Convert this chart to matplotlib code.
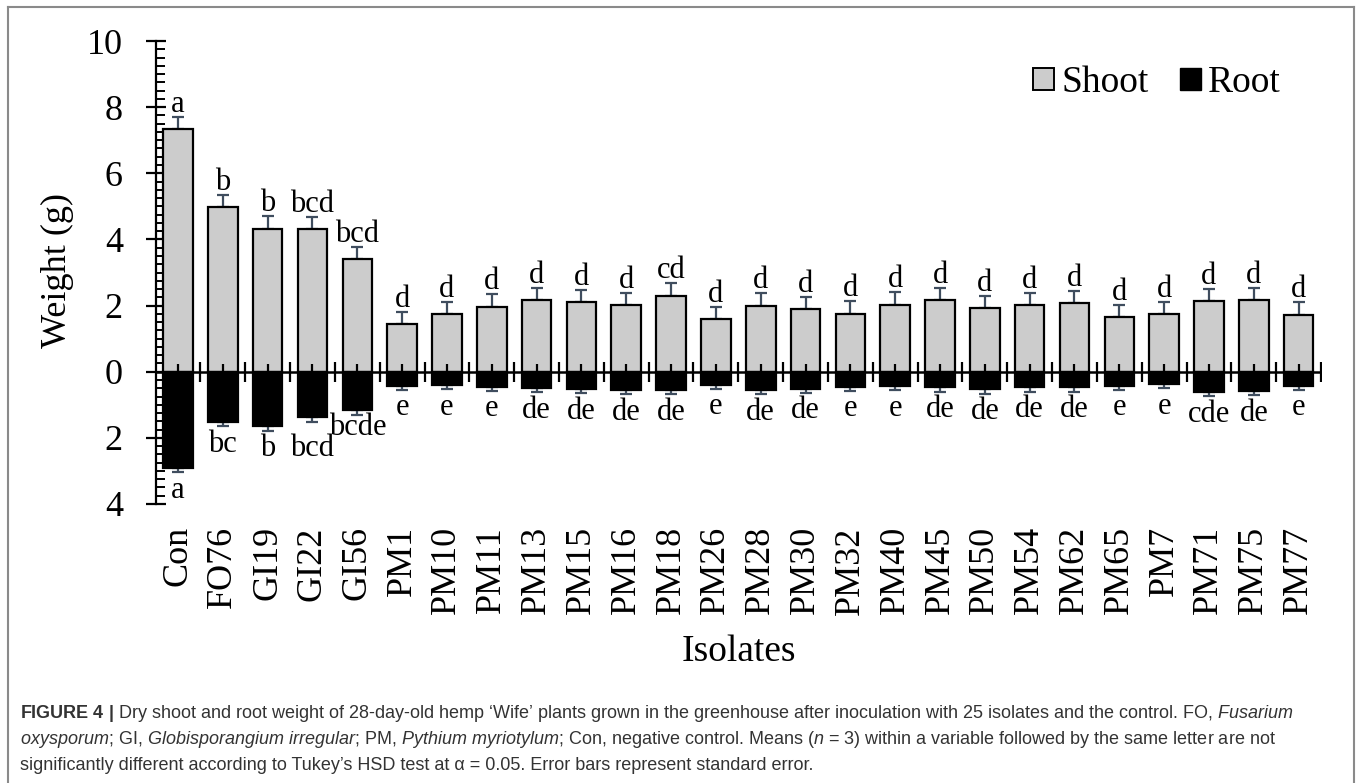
import numpy as np
import matplotlib
matplotlib.use("Agg")
import matplotlib.pyplot as plt
from matplotlib.lines import Line2D
from matplotlib.patches import Patch
from matplotlib.ticker import FuncFormatter, MultipleLocator

plt.rcParams['font.family'] = ['Liberation Serif', 'DejaVu Serif']
plt.rcParams['mathtext.fontset'] = 'custom'
plt.rcParams['mathtext.rm'] = 'Liberation Sans'
plt.rcParams['mathtext.it'] = 'Liberation Sans:italic'
plt.rcParams['mathtext.bf'] = 'Liberation Sans:bold'

# data
isolates = ["Con", "FO76", "GI19", "GI22", "GI56", "PM1", "PM10", "PM11", "PM13",
            "PM15", "PM16", "PM18", "PM26", "PM28", "PM30", "PM32", "PM40", "PM45",
            "PM50", "PM54", "PM62", "PM65", "PM7", "PM71", "PM75", "PM77"]
shoot = [7.35, 4.97, 4.33, 4.31, 3.42, 1.45, 1.74, 1.97, 2.17, 2.10, 2.03, 2.30, 1.59,
         2.00, 1.90, 1.76, 2.03, 2.17, 1.93, 2.03, 2.07, 1.64, 1.75, 2.14, 2.17, 1.73]
shoot_se = [0.36, 0.38, 0.38, 0.36, 0.36, 0.36, 0.38, 0.37, 0.36, 0.36, 0.36, 0.39, 0.38,
            0.37, 0.37, 0.37, 0.37, 0.37, 0.37, 0.36, 0.37, 0.37, 0.36, 0.37, 0.37, 0.37]
root = [2.90, 1.51, 1.64, 1.38, 1.16, 0.42, 0.40, 0.45, 0.49, 0.52, 0.55, 0.55, 0.39,
        0.55, 0.51, 0.45, 0.43, 0.47, 0.53, 0.47, 0.47, 0.42, 0.37, 0.60, 0.57, 0.42]
root_se = [0.14, 0.14, 0.14, 0.14, 0.14, 0.13, 0.13, 0.13, 0.13, 0.13, 0.13, 0.13, 0.13,
           0.13, 0.13, 0.13, 0.13, 0.13, 0.13, 0.13, 0.13, 0.13, 0.13, 0.14, 0.14, 0.13]
shoot_letters = ["a", "b", "b", "bcd", "bcd", "d", "d", "d", "d", "d", "d", "cd", "d",
                 "d", "d", "d", "d", "d", "d", "d", "d", "d", "d", "d", "d", "d"]
root_letters = ["a", "bc", "b", "bcd", "bcde", "e", "e", "e", "de", "de", "de", "de", "e",
                "de", "de", "e", "e", "de", "de", "de", "de", "e", "e", "cde", "de", "e"]

caption = [
    r"$\mathbf{FIGURE\ 4\ |}$ Dry shoot and root weight of 28-day-old hemp ‘Wife’ plants grown "
    r"in the greenhouse after inoculation with 25 isolates and the control. FO, $\mathit{Fusarium}$",
    r"$\mathit{oxysporum}$; GI, $\mathit{Globisporangium\ irregular}$; PM, $\mathit{Pythium\ myriotylum}$; "
    r"Con, negative control. Means ($\mathit{n}$ = 3) within a variable followed by the same letter are not",
    "significantly different according to Tukey’s HSD test at α = 0.05. Error bars represent standard error.",
]

W, H = 1362, 783
fig = plt.figure(figsize=(W / 100, H / 100), dpi=100)
ax = fig.add_axes([155.6 / W, (H - 504) / H, (1321 - 155.6) / W, (504 - 41) / H])

x = np.arange(len(isolates))
shoot = np.array(shoot)
root = np.array(root)
zeros = np.zeros(len(x))
ecol = '#3f4d5e'

ax.bar(x, shoot, width=0.66, color='#cccccc', edgecolor='black', linewidth=1.6, zorder=2)
ax.bar(x, -root, width=0.66, color='black', edgecolor='black', linewidth=1.6, zorder=2)
ax.errorbar(x, shoot, yerr=[zeros, shoot_se], fmt='none', ecolor=ecol,
            elinewidth=1.6, capsize=4.3, capthick=1.6, zorder=1)
ax.errorbar(x, -root, yerr=[root_se, zeros], fmt='none', ecolor=ecol,
            elinewidth=1.6, capsize=4.3, capthick=1.6, zorder=1)

# zero line with category ticks
ax.axhline(0, color='black', lw=1.8, zorder=4)
bounds = np.arange(len(x) + 1) - 0.5
ax.plot(bounds[1:], np.zeros(len(bounds) - 1), ls='none', marker='|', ms=15,
        mew=1.6, color='black', zorder=4)
ax.plot(x, zeros, ls='none', marker=2, ms=6, mew=1.6, color='black', zorder=4)

# the two crowded root labels are staggered like in the original
nudge = {"GI22": -9, "GI56": 1.5}
for i in range(len(x)):
    ax.annotate(shoot_letters[i], (x[i], shoot[i] + shoot_se[i]), xytext=(0, 3.5),
                textcoords='offset points', ha='center', va='baseline', fontsize=22)
    dy = nudge.get(isolates[i], -2.5)
    ax.annotate(root_letters[i], (x[i], -root[i] - root_se[i]), xytext=(0, dy),
                textcoords='offset points', ha='center', va='top', fontsize=22)

ax.set_xlim(-0.5, 25.5)
ax.set_ylim(-4, 10)
ax.set_yticks(np.arange(-4, 11, 2))
ax.yaxis.set_minor_locator(MultipleLocator(0.25))
ax.yaxis.set_major_formatter(FuncFormatter(lambda v, p: f"{abs(v):g}"))
ax.tick_params(axis='y', which='major', direction='inout', length=15, width=1.6,
               labelsize=26, pad=16)
ax.tick_params(axis='y', which='minor', direction='in', length=6.5, width=1.4)
ax.set_xticks(x)
ax.set_xticklabels(isolates, rotation=90, fontsize=26)
ax.tick_params(axis='x', length=0, pad=16)
for s in ['top', 'right', 'bottom']:
    ax.spines[s].set_visible(False)
ax.spines['left'].set_linewidth(1.6)

ax.text(-0.0842, 0.505, "Weight (g)", transform=ax.transAxes, rotation=90,
        ha='center', va='center', fontsize=26)
fig.text(739 / W, 1 - 652 / H, "Isolates", ha='center', va='center', fontsize=27)

handles = [Patch(facecolor='#cccccc', edgecolor='black', linewidth=1.4, label='Shoot'),
           Patch(facecolor='black', edgecolor='black', label='Root')]
fig.legend(handles=handles, loc='center right', bbox_to_anchor=(1281 / W, 1 - 83 / H),
           ncol=2, frameon=False, fontsize=27, handlelength=0.55, handleheight=0.55,
           handletextpad=0.2, columnspacing=0.85, borderpad=0, borderaxespad=0)

# caption
for k, line in enumerate(caption):
    fig.text(20 / W, 1 - (718 + 26 * k) / H, line, ha='left', va='baseline',
             fontsize=13, family='Liberation Sans', color='#333333')

# frame around the figure
bc = '#8a8a8a'
fig.add_artist(Line2D([8 / W, 8 / W], [0, 1 - 7 / H], color=bc, lw=1.5))
fig.add_artist(Line2D([1354 / W, 1354 / W], [0, 1 - 7 / H], color=bc, lw=1.5))
fig.add_artist(Line2D([8 / W, 1354 / W], [1 - 7 / H, 1 - 7 / H], color=bc, lw=1.5))

fig.savefig("out.png", dpi=100)
